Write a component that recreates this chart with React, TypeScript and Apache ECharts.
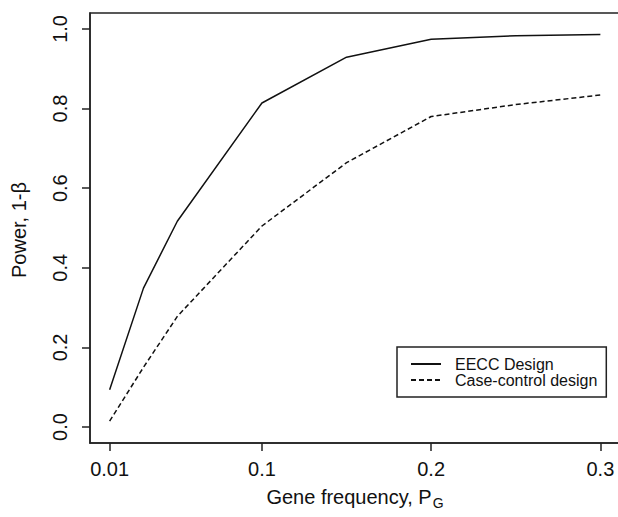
import React, { useEffect, useRef } from 'react';
import * as echarts from 'echarts';

const geneFreq = [0.01, 0.03, 0.05, 0.1, 0.15, 0.2, 0.25, 0.3];
const eeccPower = [0.094, 0.349, 0.517, 0.814, 0.929, 0.974, 0.983, 0.986];
const caseControlPower = [0.015, 0.15, 0.278, 0.505, 0.664, 0.78, 0.81, 0.834];
const xTicks = [0.01, 0.1, 0.2, 0.3];
const yTicks = [0, 0.2, 0.4, 0.6, 0.8, 1.0];
const seriesNames = ['EECC Design', 'Case-control design'];

const FONT = '"Liberation Sans", Arial, Helvetica, sans-serif';
const INK = '#111';

export default function App() {
  const ref = useRef<HTMLDivElement>(null);
  useEffect(() => {
    if (!ref.current) return;
    const chart = echarts.init(ref.current, null, { renderer: 'svg' });
    const option: any = {
      animation: false,
      backgroundColor: '#fff',
      textStyle: { fontFamily: FONT },
      grid: {
        left: 90, top: 13, width: 530, height: 430,
        show: true, borderColor: '#222', borderWidth: 1.5,
        backgroundColor: 'transparent',
        containLabel: false,
        outerBoundsMode: 'none',
      },
      xAxis: {
        type: 'value', min: -0.0016, max: 0.3116,
        splitLine: { show: false },
        axisLine: { show: true, onZero: false, lineStyle: { color: '#222', width: 1.5 } },
        axisTick: { show: true, inside: false, length: 8, customValues: xTicks, lineStyle: { color: '#222', width: 1.5 } },
        axisLabel: {
          customValues: xTicks, formatter: (v: number) => String(v),
          fontSize: 20, color: INK, margin: 16, fontFamily: FONT,
        },
      },
      yAxis: {
        type: 'value', min: -0.04, max: 1.04,
        splitLine: { show: false },
        axisLine: { show: true, onZero: false, lineStyle: { color: '#222', width: 1.5 } },
        axisTick: { show: true, inside: false, length: 8, customValues: yTicks, lineStyle: { color: '#222', width: 1.5 } },
        axisLabel: {
          customValues: yTicks, formatter: (v: number) => v.toFixed(1),
          fontSize: 20, color: INK, margin: 20, rotate: 90, fontFamily: FONT,
        },
      },
      legend: {
        orient: 'vertical', left: 397, top: 347,
        itemWidth: 30, itemHeight: 20, itemGap: 0,
        padding: [9, 9, 9, 13],
        borderColor: '#222', borderWidth: 1.5, backgroundColor: '#fff',
        itemStyle: { color: 'rgba(0,0,0,0)', borderWidth: 0, opacity: 0 },
        textStyle: { fontSize: 16, color: INK, fontFamily: FONT, padding: [0, 0, 0, 9] },
        data: seriesNames,
      },
      graphic: [
        {
          type: 'text', x: 19, y: 230, rotation: Math.PI / 2,
          style: { text: 'Power, 1-β', fontSize: 20, fill: INK, fontFamily: FONT, textAlign: 'center', textVerticalAlign: 'middle' },
        },
        {
          type: 'text', x: 355, y: 497,
          style: {
            text: '{a|Gene frequency, P}{b|G}',
            rich: {
              a: { fontSize: 20, fontFamily: FONT, fill: INK },
              b: { fontSize: 14, fontFamily: FONT, fill: INK, padding: [12, 0, 0, 1] },
            },
            textAlign: 'center', textVerticalAlign: 'middle',
          },
        },
      ],
      series: [
        {
          name: seriesNames[0], type: 'line', symbol: 'none',
          data: geneFreq.map((x, i) => [x, eeccPower[i]]),
          lineStyle: { color: INK, width: 1.5, type: 'solid' },
          itemStyle: { color: INK },
        },
        {
          name: seriesNames[1], type: 'line', symbol: 'none',
          data: geneFreq.map((x, i) => [x, caseControlPower[i]]),
          lineStyle: { color: INK, width: 1.5, type: [5, 3] },
          itemStyle: { color: INK },
        },
      ],
    };
    chart.setOption(option);
    return () => chart.dispose();
  }, []);
  return (
    <div
      ref={ref}
      style={{ position: 'fixed', left: 0, top: 0, width: 618, height: 517, background: '#fff' }}
    />
  );
}
